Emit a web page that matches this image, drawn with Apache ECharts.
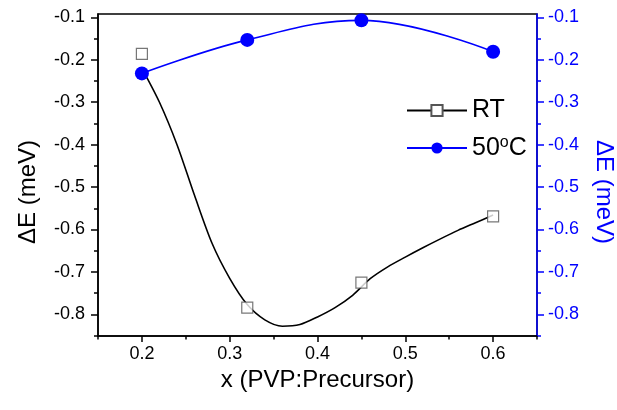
<!DOCTYPE html>
<html>
<head>
<meta charset="utf-8">
<script src="https://cdn.jsdelivr.net/npm/echarts@6/dist/echarts.min.js"></script>
<style>html,body{margin:0;padding:0;background:#fff}#c{width:617px;height:410px}</style>
</head>
<body>
<div id="c"></div>
<script>
// Data
const rtX = [0.2, 0.32, 0.45, 0.6];
const rtY = [-0.186, -0.784, -0.725, -0.569];
const hotX = [0.2, 0.32, 0.45, 0.6];
const hotY = [-0.232, -0.153, -0.107, -0.181];
// fitted curve through RT data
const rtCurveX = [0.2, 0.22, 0.24, 0.26, 0.28, 0.30, 0.32, 0.34, 0.36, 0.38, 0.40, 0.42, 0.44, 0.46, 0.48, 0.50, 0.52, 0.54, 0.56, 0.58, 0.60];
const rtCurveY = [-0.22, -0.30, -0.40, -0.52, -0.633, -0.715, -0.777, -0.813, -0.828, -0.824, -0.806, -0.784, -0.755, -0.716, -0.688, -0.665, -0.643, -0.622, -0.602, -0.584, -0.566];
const yMajor = [-0.8, -0.7, -0.6, -0.5, -0.4, -0.3, -0.2, -0.1];
const yMinor = [-0.85, -0.75, -0.65, -0.55, -0.45, -0.35, -0.25, -0.15];
const xMajor = [0.2, 0.3, 0.4, 0.5, 0.6];
const xMinor = [0.15, 0.25, 0.35, 0.45, 0.55, 0.65];
const yMin = -0.851, yMax = -0.092;
const xMin = 0.15, xMax = 0.65;

const FONT = '"Liberation Sans", Arial, sans-serif';
const BLUE = '#0000ff';
const fmt = v => (Math.round(v * 10) / 10).toFixed(1);

const chart = echarts.init(document.getElementById('c'));
function zip(a, b) { return a.map((v, i) => [v, b[i]]); }

chart.setOption({
  animation: false,
  textStyle: { fontFamily: FONT },
  grid: { left: 98, right: 80, top: 14, bottom: 74, outerBoundsMode: 'none', containLabel: false, show: true, borderColor: '#000', borderWidth: 1.5, backgroundColor: 'transparent' },
  legend: {
    data: ['RT', '50°C'],
    orient: 'vertical', left: 401, top: 93,
    itemWidth: 60, itemHeight: 14, itemGap: 12,
    selectedMode: false,
    formatter: n => n === '50°C' ? '{n|50}{sup|o}{n|C}' : '{n|' + n + '}',
    textStyle: {
      fontFamily: FONT, color: '#000', fontSize: 25,
      rich: {
        n: { fontFamily: FONT, fontSize: 25, color: '#000', lineHeight: 26 },
        sup: { fontFamily: FONT, fontSize: 16, color: '#000', verticalAlign: 'top', lineHeight: 26, padding: [0, 0, 12, 0] }
      }
    }
  },
  xAxis: [
    {
      type: 'value', min: xMin, max: xMax, position: 'bottom',
      name: 'x (PVP:Precursor)', nameLocation: 'middle', nameGap: 27,
      nameTextStyle: { fontSize: 24, color: '#000', fontFamily: FONT },
      axisLine: { show: true, lineStyle: { color: '#000', width: 1.5 } },
      axisTick: { show: true, inside: false, length: 6, customValues: xMajor, lineStyle: { color: '#000', width: 1.5 } },
      axisLabel: { show: true, customValues: xMajor, formatter: fmt, fontSize: 18, color: '#000', margin: 9, fontFamily: FONT },
      splitLine: { show: false }
    },
    {
      type: 'value', min: xMin, max: xMax, position: 'bottom',
      axisLine: { show: false },
      axisTick: { show: true, length: 3.5, customValues: xMinor, lineStyle: { color: '#000', width: 1.5 } },
      axisLabel: { show: false },
      splitLine: { show: false }
    }
  ],
  yAxis: [
    {
      type: 'value', min: yMin, max: yMax, position: 'left',
      name: 'ΔE (meV)', nameLocation: 'middle', nameGap: 58, nameRotate: 90,
      nameTextStyle: { fontSize: 24, color: '#000', fontFamily: FONT, padding: [0, 34, 0, 0] },
      axisLine: { show: true, lineStyle: { color: '#000', width: 1.5 } },
      axisTick: { show: true, length: 7, customValues: yMajor, lineStyle: { color: '#000', width: 1.5 } },
      axisLabel: { show: true, customValues: yMajor, formatter: fmt, fontSize: 18, color: '#000', margin: 13, fontFamily: FONT },
      splitLine: { show: false }
    },
    {
      type: 'value', min: yMin, max: yMax, position: 'left',
      axisLine: { show: false },
      axisTick: { show: true, length: 4, customValues: yMinor, lineStyle: { color: '#000', width: 1.5 } },
      axisLabel: { show: false },
      splitLine: { show: false }
    },
    {
      type: 'value', min: yMin, max: yMax, position: 'right',
      name: 'ΔE (meV)', nameLocation: 'middle', nameGap: 55, nameRotate: -90,
      nameTextStyle: { fontSize: 24, color: BLUE, fontFamily: FONT, padding: [0, 0, 0, 34] },
      axisLine: { show: true, lineStyle: { color: BLUE, width: 1.5 } },
      axisTick: { show: true, length: 7, customValues: yMajor, lineStyle: { color: BLUE, width: 1.5 } },
      axisLabel: { show: true, customValues: yMajor, formatter: fmt, fontSize: 18, color: BLUE, margin: 11, fontFamily: FONT },
      splitLine: { show: false }
    },
    {
      type: 'value', min: yMin, max: yMax, position: 'right',
      axisLine: { show: false },
      axisTick: { show: true, length: 4, customValues: yMinor, lineStyle: { color: BLUE, width: 1.5 } },
      axisLabel: { show: false },
      splitLine: { show: false }
    }
  ],
  series: [
    {
      name: 'RT', type: 'line', xAxisIndex: 0, yAxisIndex: 0,
      data: zip(rtCurveX, rtCurveY), smooth: 0.3, showSymbol: false,
      symbol: 'rect', symbolSize: 11,
      itemStyle: { color: '#fff', borderColor: '#555', borderWidth: 1.2 },
      lineStyle: { color: '#000', width: 1.6 },
      z: 2
    },
    {
      name: 'RT points', type: 'scatter', xAxisIndex: 0, yAxisIndex: 0,
      data: zip(rtX, rtY), symbol: 'rect', symbolSize: 11,
      itemStyle: { color: '#fff', borderColor: '#555', borderWidth: 1.2 },
      z: 3
    },
    {
      name: '50°C', type: 'line', xAxisIndex: 0, yAxisIndex: 2,
      data: zip(hotX, hotY), smooth: 0.4,
      symbol: 'circle', symbolSize: 14,
      itemStyle: { color: BLUE },
      lineStyle: { color: BLUE, width: 1.6 },
      z: 4
    }
  ]
});
</script>
</body>
</html>
